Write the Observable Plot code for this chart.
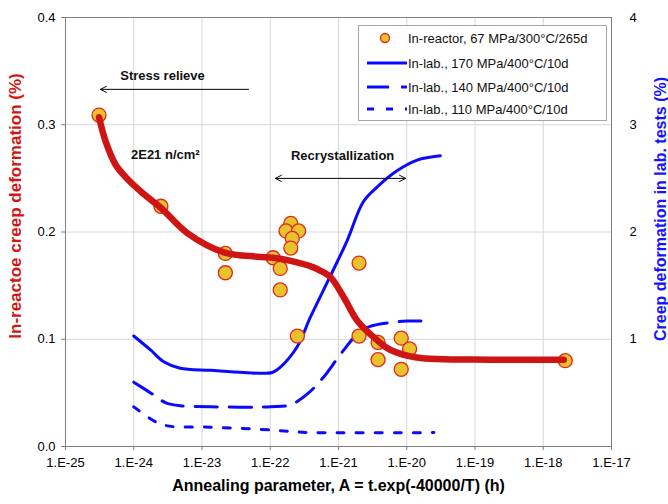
<!DOCTYPE html>
<html>
<head>
<meta charset="utf-8">
<script src="https://cdn.jsdelivr.net/npm/d3@7"></script>
<script src="https://cdn.jsdelivr.net/npm/@observablehq/plot@0.6"></script>
<style>
  html, body { margin: 0; padding: 0; background: #fff; }
  #chart { position: relative; width: 668px; height: 504px; }
</style>
</head>
<body>
<div id="chart"></div>
<script>
// Annealing parameter decades shown on the x axis (log10 of A, in h)
const decades = [-25, -24, -23, -22, -21, -20, -19, -18, -17];
const leftTicks = [0.0, 0.1, 0.2, 0.3, 0.4];
const rightTicks = [1, 2, 3, 4];

// In-reactor measurements, 67 MPa / 300°C / 265 d
const reactorA = [3.1e-25, 2.5e-24, 2.2e-23, 2.2e-23, 1.1e-22, 1.4e-22, 1.4e-22,
  2.0e-22, 1.7e-22, 2.6e-22, 2.1e-22, 2.0e-22, 2.5e-22, 2.0e-21, 2.0e-21,
  3.8e-21, 3.8e-21, 8.3e-21, 1.1e-20, 8.3e-21, 2.1e-18];
const reactorCreep = [0.309, 0.224, 0.180, 0.162, 0.176, 0.166, 0.146,
  0.208, 0.201, 0.201, 0.194, 0.185, 0.103, 0.171, 0.103,
  0.097, 0.081, 0.101, 0.091, 0.072, 0.080];

// Trend through the in-reactor data
const trendA = [3.1e-25, 3.85e-25, 5.4e-25, 8.5e-25, 1.49e-24, 2.6e-24, 6.1e-24,
  2.1e-23, 6.4e-23, 1.12e-22, 2.0e-22, 4.3e-22, 5.4e-22, 7.6e-22, 1.2e-21,
  1.9e-21, 3.7e-21, 5.8e-21, 1.4e-20, 1.7e-19, 2.0e-18];
const trendCreep = [0.307, 0.285, 0.263, 0.248, 0.234, 0.2215, 0.199,
  0.181, 0.177, 0.176, 0.173, 0.167, 0.164, 0.158, 0.139,
  0.117, 0.099, 0.090, 0.083, 0.081, 0.081];

// Laboratory creep at 400°C / 10 d (right axis, %)
const lab170A = [1e-24, 1.76e-24, 2.75e-24, 4.8e-24, 1.33e-23, 4.1e-23, 1.07e-22,
  1.41e-22, 2.48e-22, 3.9e-22, 7.6e-22, 1.34e-21, 2.3e-21, 3.7e-21, 7.2e-21,
  1.42e-20, 3.1e-20];
const lab170 = [1.03, 0.90, 0.79, 0.73, 0.71, 0.69, 0.69,
  0.74, 0.93, 1.21, 1.59, 1.92, 2.28, 2.42, 2.57,
  2.67, 2.71];

const lab140A = [1e-24, 1.86e-24, 2.9e-24, 4.8e-24, 1.33e-23, 1.01e-22, 2.0e-22,
  3.5e-22, 6.1e-22, 1.07e-21, 1.9e-21, 2.9e-21, 6.5e-21, 1.02e-20, 2.2e-20];
const lab140 = [0.60, 0.49, 0.41, 0.38, 0.37, 0.37, 0.39,
  0.49, 0.65, 0.86, 1.05, 1.12, 1.16, 1.17, 1.17];

const lab110A = [1e-24, 2.1e-24, 3.3e-24, 1.33e-23, 7.2e-23, 2.0e-22, 3.9e-22, 2.5e-20];
const lab110 = [0.37, 0.23, 0.19, 0.18, 0.16, 0.14, 0.13, 0.13];

const legendLabels = [
  "In-reactor, 67 MPa/300°C/265d",
  "In-lab., 170 MPa/400°C/10d",
  "In-lab., 140 MPa/400°C/10d",
  "In-lab., 110 MPa/400°C/10d"
];

const xTitle = "Annealing parameter, A = t.exp(-40000/T) (h)";
const yLeftTitle = "In-reactoe creep deformation (%)";
const yRightTitle = "Creep deformation in lab. tests (%)";

// Annotations (x in A, y on the left axis)
const notes = [
  {A: 2.64e-24, v: 0.346, text: "Stress relieve"},
  {A: 2.9e-24, v: 0.272, text: "2E21 n/cm²"},
  {A: 1.15e-21, v: 0.271, text: "Recrystallization"}
];
const arrows = [
  {A1: 4.8e-23, A2: 3.26e-25, v: 0.333},
  {A1: 1.07e-21, A2: 1.19e-22, v: 0.250},
  {A1: 1.07e-21, A2: 9.6e-21, v: 0.250}
];

const zip = (xs, ys, k = 1) => xs.map((x, i) => ({A: x, v: ys[i] / k}));
const reactor = zip(reactorA, reactorCreep);
const trend = zip(trendA, trendCreep);
// lab series share the plotting scale: 1 % on the right axis = 0.1 % on the left
const l170 = zip(lab170A, lab170, 10);
const l140 = zip(lab140A, lab140, 10);
const l110 = zip(lab110A, lab110, 10);

const RED = "#cf1414";
const BLUE = "#0a0aff";
const FILL = "#eac22c";
const PT_STROKE = "#e0261e";
const decadeValues = decades.map(e => Math.pow(10, e));
const fmtDecade = d => "1.E" + Math.round(Math.log10(d));

const plot = Plot.plot({
  width: 668,
  height: 504,
  marginLeft: 65,
  marginRight: 57,
  marginTop: 17,
  marginBottom: 58,
  style: {fontFamily: "'Liberation Sans', Arial, sans-serif", fontSize: "13px", color: "#000", background: "#fff", overflow: "visible"},
  x: {type: "log", domain: [1e-25, 1e-17]},
  y: {domain: [0, 0.4]},
  marks: [
    Plot.gridX(decadeValues, {stroke: "#d6d6d6", strokeOpacity: 1}),
    Plot.gridY([0.1, 0.2, 0.3], {stroke: "#d6d6d6", strokeOpacity: 1}),
    Plot.frame({stroke: "#7f7f7f"}),
    Plot.axisX(decadeValues, {tickSize: 4, tickPadding: 7, tickFormat: fmtDecade, label: null, stroke: "#7f7f7f", fontSize: 13}),
    Plot.axisY(leftTicks, {anchor: "left", tickSize: 4, tickPadding: 6, tickFormat: d3.format(".1f"), label: null, stroke: "#7f7f7f", fontSize: 13}),
    Plot.axisY(rightTicks.map(d => d / 10), {anchor: "right", tickSize: 0, tickPadding: 18, textAnchor: "start", tickFormat: d => String(Math.round(d * 10)), label: null, fontSize: 13}),

    // laboratory curves
    Plot.line(l170, {x: "A", y: "v", stroke: BLUE, strokeWidth: 3, curve: "catmull-rom"}),
    Plot.line(l140, {x: "A", y: "v", stroke: BLUE, strokeWidth: 3, curve: "catmull-rom", strokeDasharray: "22,12"}),
    Plot.line(l110, {x: "A", y: "v", stroke: BLUE, strokeWidth: 3, curve: "catmull-rom", strokeDasharray: "7,12"}),

    // in-reactor data and trend
    Plot.dot(reactor, {x: "A", y: "v", r: 7, fill: FILL, stroke: PT_STROKE, strokeWidth: 1.3}),
    Plot.line(trend, {x: "A", y: "v", stroke: RED, strokeWidth: 6.5, curve: "catmull-rom"}),

    // annotations
    Plot.arrow(arrows, {x1: "A1", y1: "v", x2: "A2", y2: "v", stroke: "#000", strokeWidth: 1, headLength: 10, headAngle: 55}),
    Plot.text(notes, {x: "A", y: "v", text: "text", fontWeight: "bold", fontSize: 13, fill: "#111"}),

    // axis titles
    Plot.text([xTitle], {frameAnchor: "bottom", dy: 44, textAnchor: "middle", fontWeight: "bold", fontSize: 16, fill: "#000"}),
    Plot.text([yLeftTitle], {frameAnchor: "left", dx: -50, dy: -26, rotate: -90, textAnchor: "middle", fontWeight: "bold", fontSize: 17, fill: "#d31515"}),
    Plot.text([yRightTitle], {frameAnchor: "right", dx: 49, dy: -23, rotate: -90, textAnchor: "middle", fontWeight: "bold", fontSize: 16, fill: "#1414ff"})
  ]
});

// Legend box in the upper right of the plotting area
const svg = d3.select(plot);
const lg = svg.append("g").attr("font-family", "'Liberation Sans', Arial, sans-serif").attr("font-size", 13).attr("text-anchor", "start");
lg.append("rect").attr("x", 358.5).attr("y", 25.5).attr("width", 248).attr("height", 95)
  .attr("fill", "#fff").attr("stroke", "#a6a6a6");
const rowY = [38, 63, 87, 109];
lg.append("circle").attr("cx", 385).attr("cy", rowY[0]).attr("r", 4.5)
  .attr("fill", FILL).attr("stroke", PT_STROKE).attr("stroke-width", 1.3);
const dashes = [null, "22,12", "7,12"];
dashes.forEach((dash, i) => {
  const l = lg.append("line").attr("x1", 367).attr("x2", 407)
    .attr("y1", rowY[i + 1]).attr("y2", rowY[i + 1])
    .attr("stroke", BLUE).attr("stroke-width", 3);
  if (dash) l.attr("stroke-dasharray", dash);
});
legendLabels.forEach((t, i) => {
  lg.append("text").attr("x", 408).attr("y", rowY[i]).attr("dy", "0.35em").attr("fill", "#111").text(t);
});

document.getElementById("chart").appendChild(plot);
</script>
</body>
</html>
